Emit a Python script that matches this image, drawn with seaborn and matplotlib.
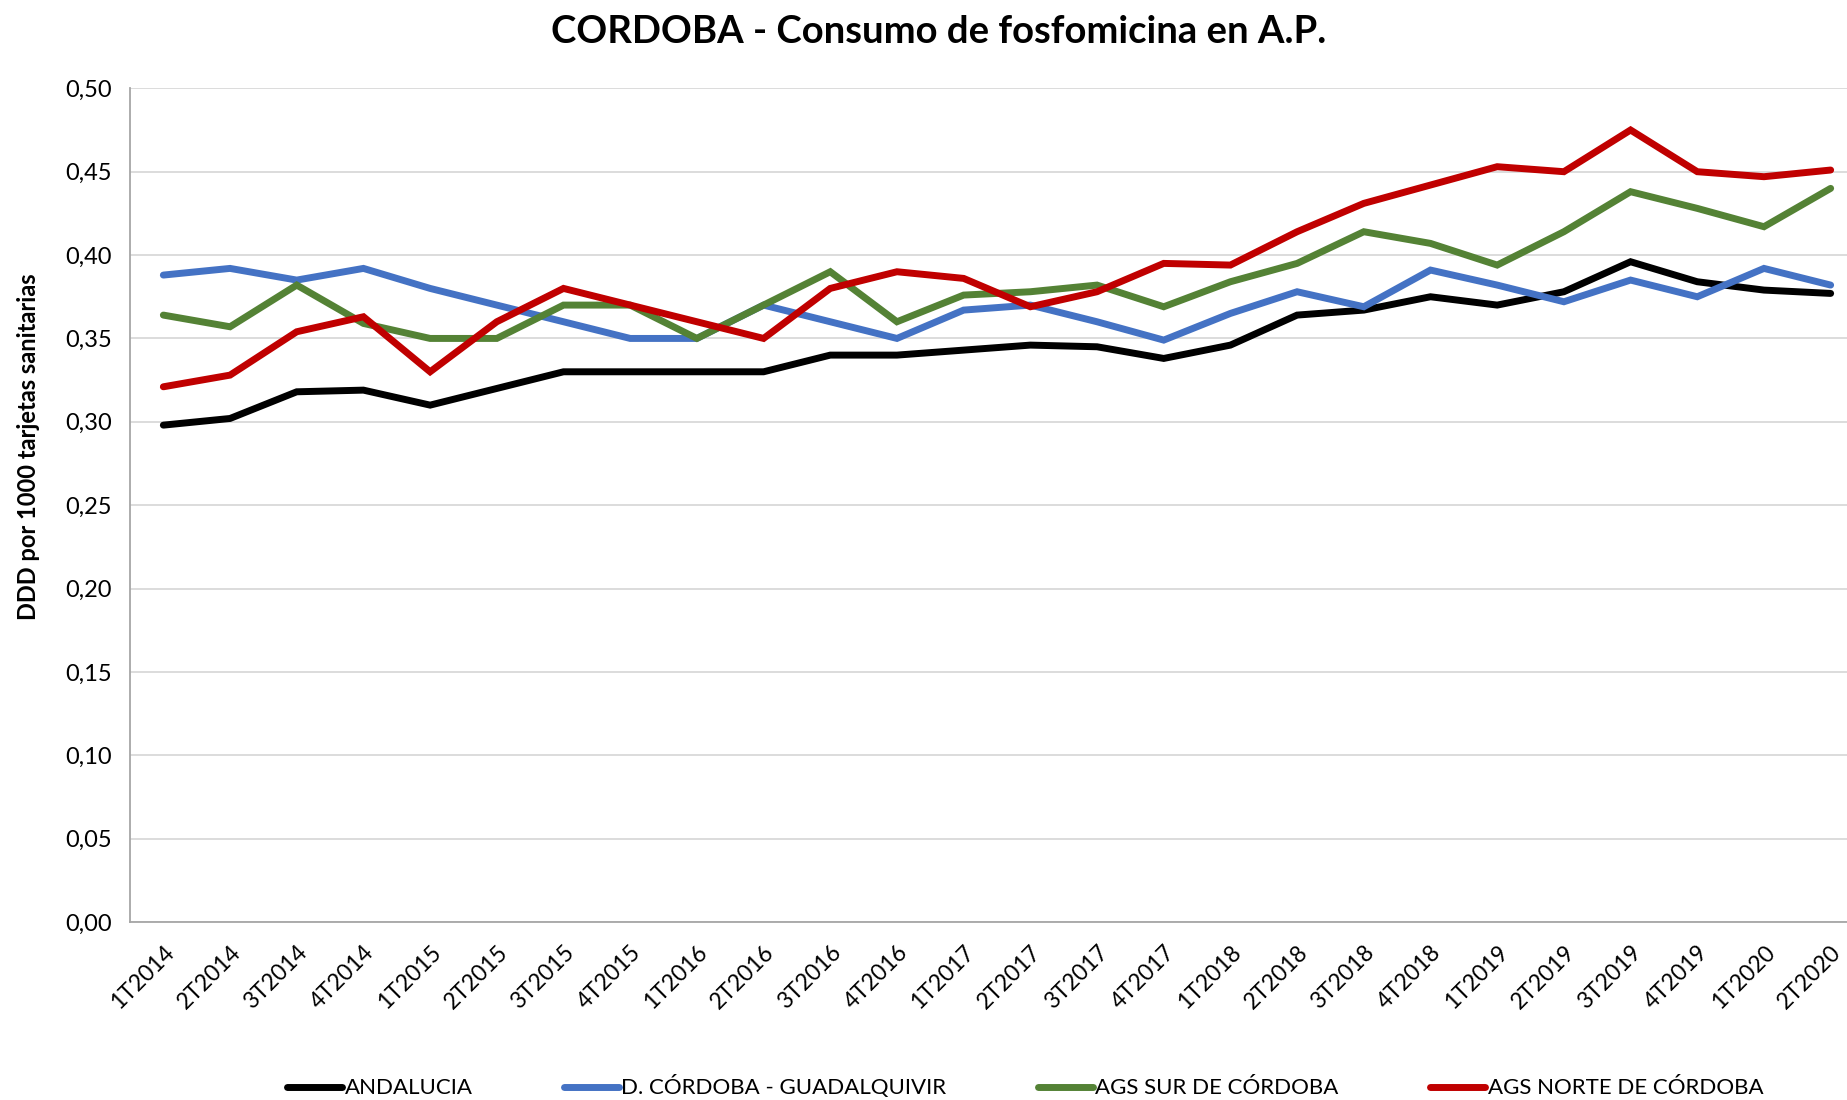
import numpy as np
import pandas as pd
import matplotlib
matplotlib.use("Agg")
import matplotlib.pyplot as plt
import seaborn as sns

# Trimestres
trimestres = ["1T2014", "2T2014", "3T2014", "4T2014", "1T2015", "2T2015", "3T2015", "4T2015",
              "1T2016", "2T2016", "3T2016", "4T2016", "1T2017", "2T2017", "3T2017", "4T2017",
              "1T2018", "2T2018", "3T2018", "4T2018", "1T2019", "2T2019", "3T2019", "4T2019",
              "1T2020", "2T2020"]

# DDD por 1000 tarjetas sanitarias
andalucia = [0.298, 0.302, 0.318, 0.319, 0.310, 0.320, 0.330, 0.330, 0.330, 0.330, 0.340, 0.340,
             0.343, 0.346, 0.345, 0.338, 0.346, 0.364, 0.367, 0.375, 0.370, 0.378, 0.396, 0.384,
             0.379, 0.377]
cordoba_guadalquivir = [0.388, 0.392, 0.385, 0.392, 0.380, 0.370, 0.360, 0.350, 0.350, 0.370, 0.360, 0.350,
                        0.367, 0.370, 0.360, 0.349, 0.365, 0.378, 0.369, 0.391, 0.382, 0.372, 0.385, 0.375,
                        0.392, 0.382]
sur_cordoba = [0.364, 0.357, 0.382, 0.359, 0.350, 0.350, 0.370, 0.370, 0.350, 0.370, 0.390, 0.360,
               0.376, 0.378, 0.382, 0.369, 0.384, 0.395, 0.414, 0.407, 0.394, 0.414, 0.438, 0.428,
               0.417, 0.440]
norte_cordoba = [0.321, 0.328, 0.354, 0.363, 0.330, 0.360, 0.380, 0.370, 0.360, 0.350, 0.380, 0.390,
                 0.386, 0.369, 0.378, 0.395, 0.394, 0.414, 0.431, 0.442, 0.453, 0.450, 0.475, 0.450,
                 0.447, 0.451]

series = ["ANDALUCIA", "D. CÓRDOBA - GUADALQUIVIR", "AGS SUR DE CÓRDOBA", "AGS NORTE DE CÓRDOBA"]
colores = ["#000000", "#4472C4", "#548235", "#C00000"]

df = pd.DataFrame({
    "idx": list(range(len(trimestres))) * 4,
    "valor": andalucia + cordoba_guadalquivir + sur_cordoba + norte_cordoba,
    "serie": np.repeat(series, len(trimestres)),
})

sns.set_style("white")
plt.rcParams["font.family"] = ["Lato", "DejaVu Sans"]
plt.rcParams["text.color"] = "black"
plt.rcParams["xtick.color"] = "black"
plt.rcParams["ytick.color"] = "black"
plt.rcParams["axes.labelcolor"] = "black"

fig = plt.figure(figsize=(18.47, 11), dpi=100)
ax = fig.add_axes([130 / 1847, 0.1618, (1864 - 130) / 1847, 0.7579])

sns.lineplot(data=df, x="idx", y="valor", hue="serie", hue_order=series,
             palette=colores, linewidth=5, ax=ax, legend=False,
             solid_capstyle="round", solid_joinstyle="miter")

ax.set_xlim(-0.5, len(trimestres) - 0.5)
ax.set_ylim(0, 0.5)
yt = np.arange(0, 0.51, 0.05)
ax.set_yticks(yt)
ax.set_yticklabels([f"{v:.2f}".replace(".", ",") for v in yt], fontsize=17)
ax.yaxis.grid(True, color="#d9d9d9", linewidth=1.3)
ax.set_axisbelow(True)

ax.set_xticks(range(len(trimestres)))
ax.set_xticklabels(trimestres, rotation=45, ha="right", rotation_mode="anchor", fontsize=16.5)
ax.set_xticks(np.arange(-0.5, len(trimestres), 1), minor=True)
ax.tick_params(axis="x", which="major", length=0, pad=14)
ax.tick_params(axis="x", which="minor", length=7, color="#a6a6a6", width=1.3, direction="out")
ax.tick_params(axis="y", length=7, color="#a6a6a6", width=1.3, direction="out", pad=6)

for s in ["top", "right"]:
    ax.spines[s].set_visible(False)
for s in ["left", "bottom"]:
    ax.spines[s].set_color("#a6a6a6")
    ax.spines[s].set_linewidth(1.3)

ax.set_xlabel("")
ax.set_ylabel("DDD por 1000 tarjetas sanitarias", fontsize=17, fontweight="bold")
ax.yaxis.set_label_coords(-0.052, 0.57)

fig.text(0.508, 0.971, "CORDOBA - Consumo de fosfomicina en A.P.", ha="center", va="center",
         fontsize=27.5, fontweight="bold")

handles = [plt.Line2D([], [], color=c, linewidth=5, solid_capstyle="round") for c in colores]
fig.legend(handles, series, loc="center", bbox_to_anchor=(1025 / 1847, 0.012), ncol=4,
           frameon=False, fontsize=16, handlelength=2.5, handletextpad=0.1, columnspacing=4.1)

fig.savefig("out.png", dpi=100)
